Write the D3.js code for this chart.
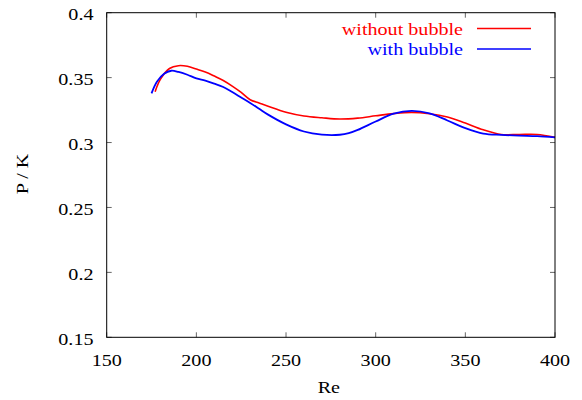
<!DOCTYPE html>
<html>
<head>
<meta charset="utf-8">
<script src="https://cdn.jsdelivr.net/npm/d3@7"></script>
<style>
  html, body { margin: 0; padding: 0; background: #fff; }
  svg { display: block; }
  text { font-family: "Liberation Serif", "Times New Roman", serif; }
</style>
</head>
<body>
<svg id="chart" width="582" height="400"></svg>
<script>
// Power coefficient vs Reynolds number, with and without the bubble
const reWithout = [177, 180, 185, 190, 195, 200, 205, 210, 215, 220, 225, 230, 235, 240, 250, 260, 270, 280, 290, 300, 310, 320, 330, 340, 350, 360, 370, 380, 390, 400];
const pkWithout = [0.3392, 0.3488, 0.3570, 0.3592, 0.3587, 0.3566, 0.3543, 0.3512, 0.3478, 0.3435, 0.3386, 0.3330, 0.3305, 0.3280, 0.3234, 0.3205, 0.3191, 0.3181, 0.3188, 0.3206, 0.3223, 0.3232, 0.3222, 0.3197, 0.3150, 0.3098, 0.3062, 0.3062, 0.3062, 0.3040];

const reWith = [175, 178, 182, 186, 190, 195, 200, 205, 210, 215, 220, 225, 230, 235, 240, 250, 260, 270, 280, 285, 290, 300, 310, 320, 330, 340, 350, 360, 370, 380, 390, 400];
const pkWith = [0.3379, 0.3468, 0.3530, 0.3553, 0.3544, 0.3522, 0.3494, 0.3477, 0.3454, 0.3428, 0.3389, 0.3347, 0.3305, 0.3260, 0.3215, 0.3140, 0.3085, 0.3061, 0.3060, 0.3072, 0.3097, 0.3162, 0.3222, 0.3244, 0.3225, 0.3170, 0.3111, 0.3069, 0.3059, 0.3053, 0.3049, 0.3040];

const xTicks = [150, 200, 250, 300, 350, 400];
const yTicks = [0.15, 0.2, 0.25, 0.3, 0.35, 0.4];
const seriesNames = ["without bubble", "with bubble"];
const seriesColors = ["#ff0000", "#0000ff"];

const svg = d3.select("#chart");
const plotL = 106.7, plotR = 555, plotT = 12.7, plotB = 337.3;
const FS = 17.5, SX = 1.15, TICK = 5;

const x = d3.scaleLinear().domain([150, 400]).range([plotL, plotR]);
const y = d3.scaleLinear().domain([0.15, 0.4]).range([plotB, plotT]);

// horizontally widened serif text
function label(tx, ty, str, anchor, fill, rot) {
  return svg.append("text")
    .attr("transform", `translate(${tx},${ty})` + (rot ? ` rotate(${rot})` : "") + ` scale(${SX},1)`)
    .attr("text-anchor", anchor)
    .attr("font-size", FS)
    .attr("fill", fill || "#000")
    .text(str);
}

// inward ticks on all four sides
const tickG = svg.append("g").attr("stroke", "#666").attr("stroke-width", 1);
xTicks.forEach(t => {
  tickG.append("line").attr("x1", x(t)).attr("x2", x(t)).attr("y1", plotB).attr("y2", plotB - TICK);
  tickG.append("line").attr("x1", x(t)).attr("x2", x(t)).attr("y1", plotT).attr("y2", plotT + TICK);
});
yTicks.forEach(t => {
  tickG.append("line").attr("x1", plotL).attr("x2", plotL + TICK).attr("y1", y(t)).attr("y2", y(t));
  tickG.append("line").attr("x1", plotR).attr("x2", plotR - TICK).attr("y1", y(t)).attr("y2", y(t));
});

// tick labels
xTicks.forEach(t => label(x(t), 365.5, String(t), "middle"));
yTicks.forEach(t => label(93.5, y(t) + 7.2, String(t), "end"));

// axis titles
label((plotL + plotR) / 2 - 2, 393, "Re", "middle");
label(28, 174, "P / K", "middle", "#000", -90);

// curves
const line = d3.line()
  .x(d => x(d[0]))
  .y(d => y(d[1]))
  .curve(d3.curveCatmullRom.alpha(0.5));

const dataWithout = reWithout.map((r, i) => [r, pkWithout[i]]);
const dataWith = reWith.map((r, i) => [r, pkWith[i]]);

svg.append("path").datum(dataWithout)
  .attr("d", line).attr("fill", "none")
  .attr("stroke", seriesColors[0]).attr("stroke-width", 1.6);
svg.append("path").datum(dataWith)
  .attr("d", line).attr("fill", "none")
  .attr("stroke", seriesColors[1]).attr("stroke-width", 1.8);

// legend
const legY = [28.5, 49];
seriesNames.forEach((name, i) => {
  label(463, legY[i] + 6, name, "end", seriesColors[i]);
  svg.append("line")
    .attr("x1", 477).attr("x2", 531)
    .attr("y1", legY[i]).attr("y2", legY[i])
    .attr("stroke", seriesColors[i]).attr("stroke-width", 1.6);
});

// plot border
svg.append("rect")
  .attr("x", plotL).attr("y", plotT)
  .attr("width", plotR - plotL).attr("height", plotB - plotT)
  .attr("fill", "none").attr("stroke", "#000").attr("stroke-width", 1);
</script>
</body>
</html>
